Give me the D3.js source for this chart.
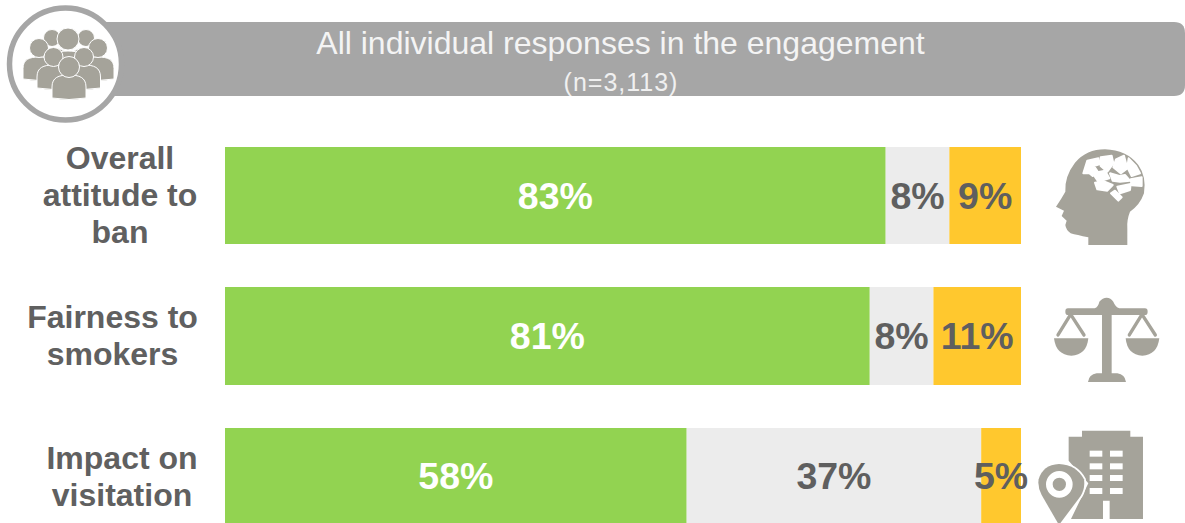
<!DOCTYPE html>
<html>
<head>
<meta charset="utf-8">
<script src="https://cdn.jsdelivr.net/npm/d3@7"></script>
<style>
html,body{margin:0;padding:0;background:#fff;overflow:hidden}
svg{display:block}
text{font-family:"Liberation Sans",Arial,sans-serif}
</style>
</head>
<body>
<svg id="chart" width="1185" height="523"></svg>
<script>
const categories = [["Overall","attitude to","ban"],["Fairness to","smokers"],["Impact on","visitation"]];
const supportive = [83,81,58];
const neutral = [8,8,37];
const opposed = [9,11,5];
const headline = "All individual responses in the engagement";
const sampleNote = "(n=3,113)";
const segmentColors = ["#92d351","#ececec","#ffc82e"];
const segmentInk = ["#ffffff","#5f5f5f","#5f5f5f"];
const labelCentres = [120,112.5,122];
const iconGrey = "#a5a39a";

const svg = d3.select("#chart");
const x = d3.scaleLinear().domain([0,100]).range([225,1021]);
const rowTops = [147,287,428];
const rowHeights = [97,98,95];

// Header ribbon with the audience badge
svg.append("path")
  .attr("d","M100,22H1174Q1185,22 1185,33V85Q1185,96 1174,96H100Z")
  .attr("fill","#a6a6a6");
svg.append("circle").attr("cx",65.5).attr("cy",64).attr("r",56)
  .attr("fill","#fff").attr("stroke","#a6a6a6").attr("stroke-width",5.5);

const crowd = svg.append("g");
const person = (cx,headY,r,bw,bodyTop,bottom) => {
  const h = bottom-bodyTop;
  const p = `M${cx-bw},${bottom-1}V${bodyTop+h*0.5}C${cx-bw},${bodyTop+h*0.1} ${cx-bw*0.6},${bodyTop} ${cx},${bodyTop}C${cx+bw*0.6},${bodyTop} ${cx+bw},${bodyTop+h*0.1} ${cx+bw},${bodyTop+h*0.5}V${bottom-1}Q${cx},${bottom+2} ${cx-bw},${bottom-1}Z`;
  crowd.append("path").attr("d",p).attr("fill",iconGrey).attr("stroke","#fff").attr("stroke-width",1);
  crowd.append("circle").attr("cx",cx).attr("cy",headY).attr("r",r).attr("fill",iconGrey).attr("stroke","#fff").attr("stroke-width",1);
};
person(52,38,8.5,16,48,76);
person(86,38,8.5,16,48,76);
person(39,48,9.5,16,57,80);
person(98,48,9.5,16,57,80);
person(68,39,11,18,51,76);
person(53.5,57,9.5,16.5,65,89);
person(84,57,9.5,16.5,65,89);
person(69,67,10.5,17,75,99);

// Heading text
svg.append("text").attr("x",620.5).attr("y",54).attr("text-anchor","middle")
  .attr("font-size",32).attr("fill","#f4f4f4").text(headline);
svg.append("text").attr("x",621).attr("y",91).attr("text-anchor","middle")
  .attr("font-size",25).attr("letter-spacing",1).attr("fill","#f0f0f0").text(sampleNote);

// Stacked bars
const rows = categories.map((c,i)=>[supportive[i],neutral[i],opposed[i]]);
rows.forEach((vals,i)=>{
  let start = 0;
  vals.forEach((v,j)=>{
    svg.append("rect").attr("x",x(start)).attr("y",rowTops[i])
      .attr("width",x(start+v)-x(start)).attr("height",rowHeights[i])
      .attr("fill",segmentColors[j]);
    start += v;
  });
  start = 0;
  vals.forEach((v,j)=>{
    svg.append("text").attr("x",x(start+v/2)).attr("y",rowTops[i]+rowHeights[i]/2+13)
      .attr("text-anchor","middle").attr("font-size",37.5).attr("font-weight","bold")
      .attr("fill",segmentInk[j]).text(v+"%");
    start += v;
  });
  const firstY = [169,328,469][i];
  categories[i].forEach((t,k)=>{
    svg.append("text").attr("x",labelCentres[i]).attr("y",firstY+k*37)
      .attr("text-anchor","middle").attr("font-size",32).attr("font-weight","bold")
      .attr("fill","#606060").text(t);
  });
});

// Head and brain pictogram
const brain = svg.append("g").attr("transform","translate(1030,140) scale(0.3333)");
brain.append("path").attr("fill",iconGrey)
  .attr("d","M175,315V292Q140,285 122,280Q108,270 106,255L110,242L95,228L102,212L78,200Q95,175 106,155Q103,110 135,68Q170,28 225,28Q290,30 325,75Q350,110 342,160Q330,195 300,215Q290,240 292,265V315Z");
const brainBits = [
  "M160,100L172,62L205,55L210,72L192,78L204,96L188,108L178,100Z",
  "M212,52L245,47L250,70L232,95L212,78Z",
  "M258,58L282,47L292,85L272,100L250,82Z",
  "M296,55L318,78L330,100L305,108L292,82Z",
  "M188,100L225,92L238,115L205,125Z",
  "M240,100L268,108L285,105L300,122L270,125L248,122Z",
  "M302,118L335,112L335,138L305,136Z",
  "M195,128L222,124L248,135L232,152L202,148Z",
  "M262,140L302,132L300,150L270,160Z",
  "M243,160L255,152L275,172L265,182Z"];
brain.selectAll("path.bit").data(brainBits).join("path").attr("class","bit").attr("d",d=>d)
  .attr("fill","#fff").attr("stroke","#fff").attr("stroke-width",6).attr("stroke-linejoin","round");

// Balance scale pictogram
const scale = svg.append("g").attr("transform","translate(1030,285) scale(0.3333)");
scale.append("path").attr("fill",iconGrey)
  .attr("d","M216,90H114Q106,90 106,80Q106,70 114,70H194Q205,66 208,50Q218,38 230,38Q242,38 250,50Q256,66 268,70H345Q353,70 353,80Q353,90 345,90H245V265H262Q285,268 288,291H174Q177,268 200,265H216Z");
scale.append("path").attr("fill","none").attr("stroke",iconGrey).attr("stroke-width",10).attr("stroke-linecap","round")
  .attr("d","M122,88L84,150M122,88L162,150M336,88L298,150M336,88L376,150");
scale.append("path").attr("fill",iconGrey).attr("d","M72,160H175Q170,210 124,212Q78,210 72,160Z");
scale.append("path").attr("fill",iconGrey).attr("d","M287,160H388Q382,210 337,212Q292,210 287,160Z");

// Building and map pin pictogram
const place = svg.append("g").attr("transform","translate(960,420) scale(0.3333)");
place.append("path").attr("fill",iconGrey)
  .attr("d","M366,32H511V50H549V297H449V242H429V297H333L385,190L326,122V50H366Z");
const windowYs = [92,130,165,204];
[389,450].forEach(wx=>windowYs.forEach(wy=>{
  place.append("rect").attr("x",wx).attr("y",wy).attr("width",38).attr("height",18).attr("fill","#fff");
}));
place.append("path").attr("fill",iconGrey).attr("stroke","#fff").attr("stroke-width",11).attr("paint-order","stroke")
  .attr("d","M297,315L245,225Q232,200 236,178Q248,135 297,132Q350,135 372,178Q376,205 362,228Z");
place.append("circle").attr("cx",298).attr("cy",193).attr("r",30).attr("fill","none").attr("stroke","#fff").attr("stroke-width",20);
</script>
</body>
</html>
